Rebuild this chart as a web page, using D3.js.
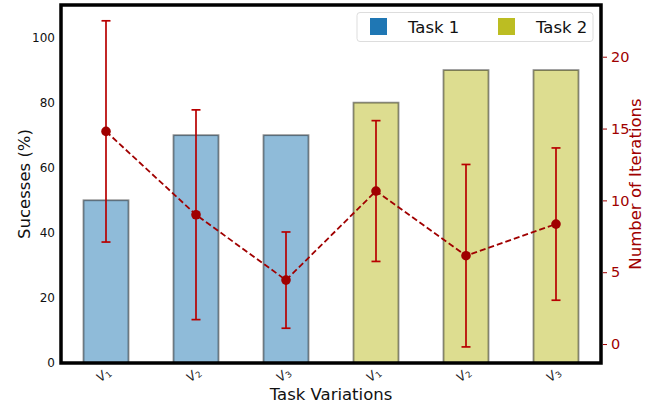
<!DOCTYPE html>
<html lang="en">
<head>
<meta charset="UTF-8" />
<title>Task Variations</title>
<script src="https://cdn.jsdelivr.net/npm/d3@7"></script>
<style>
  body { margin: 0; background: #fff; }
  svg { font-family: "DejaVu Sans", sans-serif; }
</style>
</head>
<body>
<svg id="chart" width="648" height="407"></svg>
<script>
// data
var variations = ["1", "2", "3", "1", "2", "3"];
var tasks = ["Task 1", "Task 1", "Task 1", "Task 2", "Task 2", "Task 2"];
var successes = [50, 70, 70, 80, 90, 90];
var iterMean = [14.8, 9.0, 4.45, 10.65, 6.15, 8.35];
var iterErr = [7.7, 7.3, 3.35, 4.9, 6.35, 5.3];
var leftTicks = [0, 20, 40, 60, 80, 100];
var rightTicks = [0, 5, 10, 15, 20];
var legendNames = ["Task 1", "Task 2"];

var taskFill = { "Task 1": "#8fbbd9", "Task 2": "#dddd90" };
var taskSolid = { "Task 1": "#1f77b4", "Task 2": "#bcbd22" };
var red = "#a00000";

var svg = d3.select("#chart");
var L = 61, R = 601, T = 5, B = 363;

var x = d3.scaleBand().domain(d3.range(successes.length)).range([L, R]).padding(0);
var yL = d3.scaleLinear().domain([0, 110]).range([B, T]);
var yR = d3.scaleLinear().domain([-1.32, 23.6]).range([B, T]);
var bw = x.bandwidth() * 0.5;

// bars
svg.append("g").selectAll("rect")
  .data(successes)
  .join("rect")
  .attr("x", (d, i) => x(i) + (x.bandwidth() - bw) / 2)
  .attr("y", d => yL(d))
  .attr("width", bw)
  .attr("height", d => yL(0) - yL(d))
  .attr("fill", (d, i) => taskFill[tasks[i]])
  .attr("stroke", "#000")
  .attr("stroke-opacity", 0.45)
  .attr("stroke-width", 1.8);

var cx = i => x(i) + x.bandwidth() / 2;

// error bars
var eb = svg.append("g").attr("stroke", "#b80000").attr("stroke-width", 1.7);
iterMean.forEach(function(m, i) {
  var lo = yR(m - iterErr[i]), hi = yR(m + iterErr[i]);
  eb.append("line").attr("x1", cx(i)).attr("x2", cx(i)).attr("y1", lo).attr("y2", hi);
  eb.append("line").attr("x1", cx(i) - 4.5).attr("x2", cx(i) + 4.5).attr("y1", lo).attr("y2", lo);
  eb.append("line").attr("x1", cx(i) - 4.5).attr("x2", cx(i) + 4.5).attr("y1", hi).attr("y2", hi);
});

// dashed mean line
var line = d3.line().x((d, i) => cx(i)).y(d => yR(d));
svg.append("path")
  .datum(iterMean)
  .attr("d", line)
  .attr("fill", "none")
  .attr("stroke", red)
  .attr("stroke-width", 1.8)
  .attr("stroke-dasharray", "6,3");

svg.append("g").selectAll("circle")
  .data(iterMean)
  .join("circle")
  .attr("cx", (d, i) => cx(i))
  .attr("cy", d => yR(d))
  .attr("r", 4.8)
  .attr("fill", red);

// left axis labels
svg.append("g").selectAll("text")
  .data(leftTicks)
  .join("text")
  .attr("x", 55)
  .attr("y", d => yL(d))
  .attr("dy", "0.35em")
  .attr("text-anchor", "end")
  .attr("font-size", 12)
  .attr("fill", "#111")
  .text(d => d);

// right axis
var rAxis = d3.axisRight(yR).tickValues(rightTicks).tickSize(4).tickPadding(4);
var rg = svg.append("g").attr("transform", "translate(" + (R + 2) + ",0)").call(rAxis);
rg.select(".domain").remove();
rg.selectAll("line").attr("stroke", red);
rg.selectAll("text").attr("fill", red).attr("font-size", 14.5).attr("font-family", "DejaVu Sans");

// x tick labels
var xl = svg.append("g").selectAll("text")
  .data(variations)
  .join("text")
  .attr("transform", (d, i) => "translate(" + cx(i) + ",378) rotate(-40)")
  .attr("text-anchor", "middle")
  .attr("font-size", 12.5)
  .attr("fill", "#222");
xl.append("tspan").attr("font-style", "italic").text("V");
xl.append("tspan").attr("font-size", 8.5).attr("dy", 2).text(d => d);

// spines
svg.append("rect")
  .attr("x", L).attr("y", T)
  .attr("width", R - L).attr("height", B - T)
  .attr("fill", "none").attr("stroke", "#000").attr("stroke-width", 3.5);

// axis titles
svg.append("text")
  .attr("transform", "translate(30," + (T + B) / 2 + ") rotate(-90)")
  .attr("text-anchor", "middle")
  .attr("font-size", 16.5)
  .attr("fill", "#111")
  .text("Sucesses (%)");

svg.append("text")
  .attr("transform", "translate(641," + (T + B) / 2 + ") rotate(-90)")
  .attr("text-anchor", "middle")
  .attr("font-size", 16.5)
  .attr("fill", red)
  .text("Number of Iterations");

svg.append("text")
  .attr("x", (L + R) / 2)
  .attr("y", 400)
  .attr("text-anchor", "middle")
  .attr("font-size", 16.5)
  .attr("fill", "#111")
  .text("Task Variations");

// legend
var lg = svg.append("g");
lg.append("rect")
  .attr("x", 357).attr("y", 12.5)
  .attr("width", 236).attr("height", 29)
  .attr("rx", 3)
  .attr("fill", "#fff").attr("fill-opacity", 0.8)
  .attr("stroke", "#ddd");
legendNames.forEach(function(n, i) {
  var ox = 370 + i * 128;
  lg.append("rect").attr("x", ox).attr("y", 18).attr("width", 17).attr("height", 17)
    .attr("fill", taskSolid[n]);
  lg.append("text").attr("x", ox + 38).attr("y", 32.5)
    .attr("font-size", 16.5).attr("fill", "#111").text(n);
});
</script>
</body>
</html>
